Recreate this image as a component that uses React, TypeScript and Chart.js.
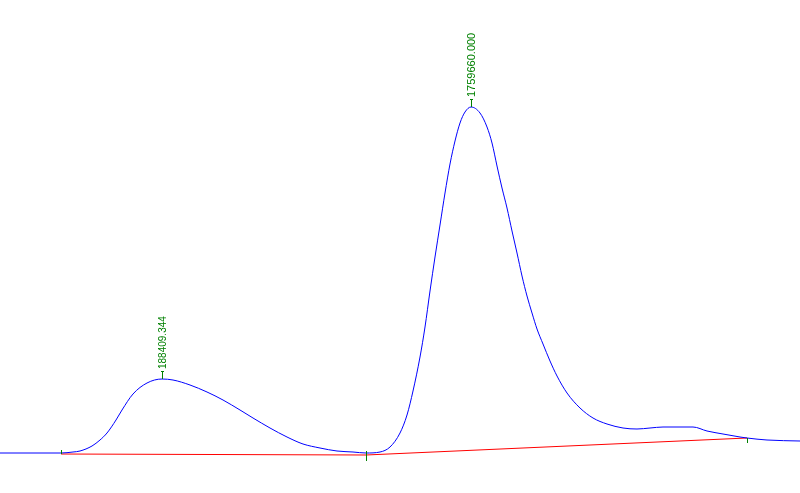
import React, { useEffect, useRef } from "react";
import { Chart, registerables } from "chart.js";

Chart.register(...registerables);

const W = 800;
const H = 493;

// Signal trace: x (time units), y (signal height units)
const traceX = [0, 40, 61, 73, 80, 92, 100, 107, 116, 122, 133, 147, 162, 173, 190, 207, 223, 240, 253, 270, 287, 303, 320, 337, 353, 366, 380, 390, 400, 407, 413, 420, 425, 430, 435, 440, 445, 450, 455, 460, 465, 471, 480, 487, 492, 497, 502, 507, 512, 517, 522, 527, 532, 537, 543, 550, 557, 567, 580, 593, 607, 623, 637, 650, 663, 693, 707, 723, 740, 747, 767, 800];
const traceY = [40, 40, 40, 41, 42, 47, 53, 60, 73, 83, 99, 110, 114, 113, 108, 101, 93, 83, 75, 65, 56, 49, 45, 42, 41, 40, 41, 46, 60, 78, 102, 136, 166, 202, 236, 268, 300, 329, 352, 370, 381, 386, 380, 366, 350, 327, 305, 285, 262, 240, 217, 197, 180, 164, 149, 132, 117, 100, 85, 75, 69, 65, 64, 65, 66, 66, 62, 59, 56, 55, 53, 52];

// Baseline drawn under the peaks
const baseX = [61, 366, 747];
const baseY = [39, 38, 55];

// Integration markers at baseline points (extent above / below the baseline)
const markUp = [4, 4, 0];
const markDown = [0, 6, 5];

// Peak apexes and their labels
const peakX = [162, 471];
const peakY = [114, 386];
const peakLabels = ["188409.344", "1759660.000"];
const peakFont = [10, 11];

const annotations = {
  id: "peakAnnotations",
  afterDatasetsDraw(chart: any) {
    const { ctx, scales } = chart;
    const xs = scales.x;
    const ys = scales.y;
    ctx.save();
    ctx.strokeStyle = "#008000";
    ctx.fillStyle = "#008000";
    ctx.lineWidth = 1;
    // baseline markers
    baseX.forEach((bx, i) => {
      const px = Math.round(xs.getPixelForValue(bx)) + 0.5;
      const py = ys.getPixelForValue(baseY[i]);
      ctx.beginPath();
      ctx.moveTo(px, py - markUp[i]);
      ctx.lineTo(px, py + markDown[i]);
      ctx.stroke();
    });
    // peak labels
    peakX.forEach((x, i) => {
      const px = Math.round(xs.getPixelForValue(x)) + 0.5;
      const py = ys.getPixelForValue(peakY[i]);
      ctx.beginPath();
      ctx.moveTo(px, py);
      ctx.lineTo(px, py - 8);
      ctx.stroke();
      ctx.beginPath();
      ctx.moveTo(px - 1.5, py - 7.5);
      ctx.lineTo(px + 1.5, py - 7.5);
      ctx.stroke();
      ctx.save();
      ctx.translate(px + 0.5, py - 10);
      ctx.rotate(-Math.PI / 2);
      ctx.font = `${peakFont[i]}px "Liberation Sans", Arial, sans-serif`;
      ctx.textAlign = "left";
      ctx.textBaseline = "middle";
      ctx.fillText(peakLabels[i], 0, 0);
      ctx.restore();
    });
    ctx.restore();
  },
};

export default function App() {
  const ref = useRef<HTMLCanvasElement | null>(null);

  useEffect(() => {
    document.body.style.margin = "0";
    document.body.style.background = "#ffffff";
    if (!ref.current) return;
    const chart = new Chart(ref.current, {
      type: "line",
      data: {
        datasets: [
          {
            label: "signal",
            data: traceX.map((x, i) => ({ x, y: traceY[i] })),
            borderColor: "#0000ff",
            borderWidth: 1,
            pointRadius: 0,
            cubicInterpolationMode: "monotone",
            fill: false,
          },
          {
            label: "baseline",
            data: baseX.map((x, i) => ({ x, y: baseY[i] })),
            borderColor: "#ff0000",
            borderWidth: 1,
            pointRadius: 0,
            tension: 0,
            fill: false,
          },
        ],
      },
      options: {
        animation: false,
        responsive: false,
        maintainAspectRatio: false,
        layout: { padding: 0 },
        plugins: {
          legend: { display: false },
          tooltip: { enabled: false },
          title: { display: false },
        },
        scales: {
          x: { type: "linear", min: 0, max: W, display: false },
          y: { type: "linear", min: 0, max: H, display: false },
        },
      },
      plugins: [annotations],
    });
    return () => chart.destroy();
  }, []);

  return (
    <div style={{ position: "absolute", left: 0, top: 0, width: W, height: H, background: "#fff" }}>
      <canvas ref={ref} width={W} height={H} style={{ display: "block" }} />
    </div>
  );
}
